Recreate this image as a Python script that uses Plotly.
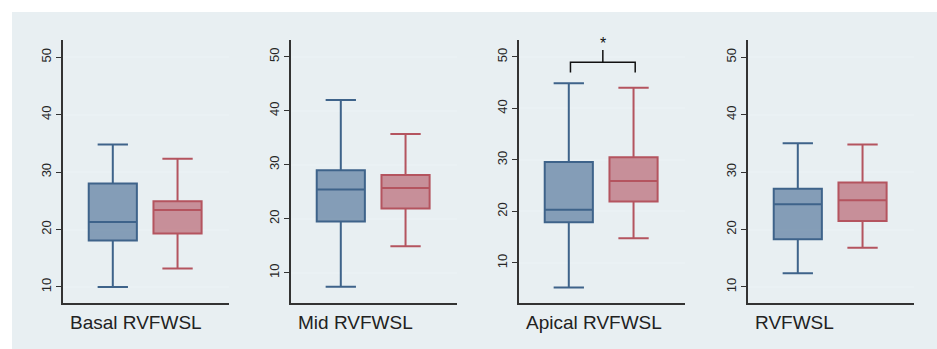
import plotly.graph_objects as go

W, H = 937, 349

panel_titles = ["Basal RVFWSL", "Mid RVFWSL", "Apical RVFWSL", "RVFWSL"]

# group 1 (blue) statistics per panel
blue_lower = [10.0, 7.4, 5.2, 12.4]
blue_q1 = [18.1, 19.5, 17.9, 18.3]
blue_median = [21.3, 25.4, 20.3, 24.4]
blue_q3 = [28.0, 29.0, 29.6, 27.1]
blue_upper = [34.8, 42.0, 44.9, 35.0]

# group 2 (red) statistics per panel
red_lower = [13.2, 14.9, 14.8, 16.8]
red_q1 = [19.3, 21.9, 21.9, 21.5]
red_median = [23.4, 25.7, 25.9, 25.1]
red_q3 = [24.9, 28.1, 30.5, 28.2]
red_upper = [32.3, 35.7, 44.0, 34.8]

y_ticks = [10, 20, 30, 40, 50]
y_ranges = [[7.2, 53.0], [4.4, 53.1], [2.2, 53.3], [7.2, 53.0]]

# significance bracket (panel 3)
bracket_leg_bottom = 47.0
bracket_level = 49.0
bracket_stem_top = 51.35
star_level = 52.6
sig_label = "*"

# layout in pixels
panel_left = [63, 291, 519, 748]
panel_width = 166
plot_top, plot_bottom = 40, 303
blue_pos, red_pos = 0.30, 0.69
box_w = 0.29

BLUE_FILL = "rgba(60,98,140,0.58)"
BLUE_LINE = "#3e638a"
RED_FILL = "rgba(176,74,88,0.58)"
RED_LINE = "#b4545f"

fig = go.Figure()

for i in range(4):
    n = i + 1
    xa = "x" if n == 1 else f"x{n}"
    ya = "y" if n == 1 else f"y{n}"
    fig.add_trace(go.Box(
        x=[blue_pos], q1=[blue_q1[i]], median=[blue_median[i]], q3=[blue_q3[i]],
        lowerfence=[blue_lower[i]], upperfence=[blue_upper[i]],
        width=box_w, whiskerwidth=0.63, boxpoints=False,
        fillcolor=BLUE_FILL, line=dict(color=BLUE_LINE, width=2),
        xaxis=xa, yaxis=ya, showlegend=False, hoverinfo="skip"))
    fig.add_trace(go.Box(
        x=[red_pos], q1=[red_q1[i]], median=[red_median[i]], q3=[red_q3[i]],
        lowerfence=[red_lower[i]], upperfence=[red_upper[i]],
        width=box_w, whiskerwidth=0.63, boxpoints=False,
        fillcolor=RED_FILL, line=dict(color=RED_LINE, width=2),
        xaxis=xa, yaxis=ya, showlegend=False, hoverinfo="skip"))

layout = dict(
    width=W, height=H,
    margin=dict(l=0, r=0, t=0, b=0),
    paper_bgcolor="white",
    plot_bgcolor="white",
    showlegend=False,
    font=dict(family="Liberation Sans, Arial, sans-serif", color="#222"),
    shapes=[],
    annotations=[],
)

y0 = 1 - plot_bottom / H
y1 = 1 - plot_top / H

for i in range(4):
    n = i + 1
    sfx = "" if n == 1 else str(n)
    x0 = panel_left[i] / W
    x1 = (panel_left[i] + panel_width) / W
    layout[f"xaxis{sfx}"] = dict(
        domain=[x0, x1], range=[0, 1], showline=True, linecolor="#333",
        linewidth=2, showticklabels=False, ticks="", showgrid=False,
        zeroline=False, anchor=f"y{sfx}", fixedrange=True)
    layout[f"yaxis{sfx}"] = dict(
        domain=[y0, y1], range=y_ranges[i], tickvals=y_ticks,
        showline=True, linecolor="#333", linewidth=1.5,
        ticks="outside", ticklen=5, tickcolor="#333", tickwidth=1.2,
        tickangle=-90, tickfont=dict(size=13, color="#262626"),
        showgrid=True, gridcolor="#eaf1f4", gridwidth=1.5,
        zeroline=False, anchor=f"x{sfx}", fixedrange=True)
    layout["annotations"].append(dict(
        x=(panel_left[i] + 5) / W, y=1 - 322 / H, xref="paper", yref="paper",
        xanchor="left", yanchor="middle", text=panel_titles[i],
        showarrow=False, font=dict(size=19, color="#222")))

# light background panel
layout["shapes"].append(dict(
    type="rect", xref="paper", yref="paper", x0=12 / W, x1=1, y0=0, y1=1 - 12 / H,
    fillcolor="#e8eff2", line=dict(width=0), layer="below"))

# significance bracket on panel 3
bl, br = 0.31, 0.70
bm = (bl + br) / 2
layout["shapes"].append(dict(
    type="path", xref="x3", yref="y3",
    path=f"M {bl},{bracket_leg_bottom} L {bl},{bracket_level} L {br},{bracket_level} L {br},{bracket_leg_bottom}",
    line=dict(color="#111", width=1.5)))
layout["shapes"].append(dict(
    type="line", xref="x3", yref="y3", x0=bm, x1=bm,
    y0=bracket_level, y1=bracket_stem_top, line=dict(color="#111", width=1.5)))
layout["annotations"].append(dict(
    x=bm, y=star_level, xref="x3", yref="y3", text=sig_label, showarrow=False,
    xanchor="center", yanchor="middle", font=dict(size=16, color="#111")))

fig.update_layout(**layout)
fig.write_html(
    "out.html",
    config={"displayModeBar": False},
    post_script="document.body.style.margin='0px';document.body.style.overflow='hidden';",
)
